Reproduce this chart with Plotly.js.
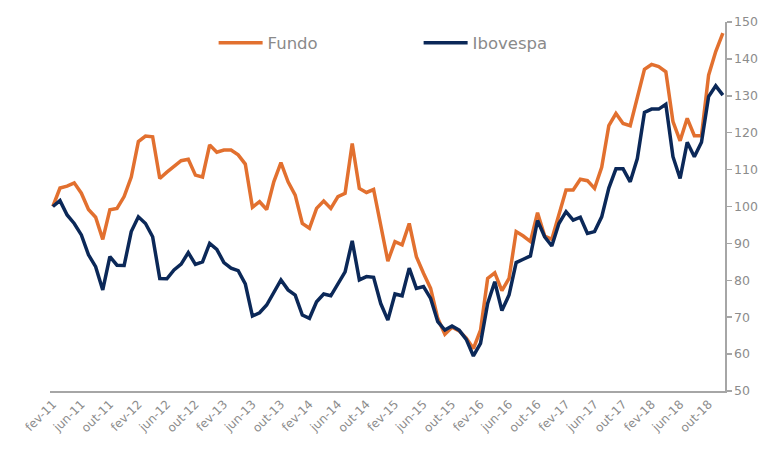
<!DOCTYPE html>
<html><head><meta charset="utf-8">
<script src="https://cdn.plot.ly/plotly-3.0.1.min.js"></script>
<style>html,body{margin:0;padding:0;background:#fff}#chart{width:760px;height:452px}</style>
</head><body><div id="chart"></div>
<script>
const months = [
 "fev-11","mar-11","abr-11","mai-11","jun-11","jul-11","ago-11","set-11","out-11","nov-11","dez-11",
 "jan-12","fev-12","mar-12","abr-12","mai-12","jun-12","jul-12","ago-12","set-12","out-12","nov-12","dez-12",
 "jan-13","fev-13","mar-13","abr-13","mai-13","jun-13","jul-13","ago-13","set-13","out-13","nov-13","dez-13",
 "jan-14","fev-14","mar-14","abr-14","mai-14","jun-14","jul-14","ago-14","set-14","out-14","nov-14","dez-14",
 "jan-15","fev-15","mar-15","abr-15","mai-15","jun-15","jul-15","ago-15","set-15","out-15","nov-15","dez-15",
 "jan-16","fev-16","mar-16","abr-16","mai-16","jun-16","jul-16","ago-16","set-16","out-16","nov-16","dez-16",
 "jan-17","fev-17","mar-17","abr-17","mai-17","jun-17","jul-17","ago-17","set-17","out-17","nov-17","dez-17",
 "jan-18","fev-18","mar-18","abr-18","mai-18","jun-18","jul-18","ago-18","set-18","out-18","nov-18","dez-18"
];
const fundo = [
 100,105,105.5,106.4,103.6,99.2,97.1,91.1,99.1,99.5,
 102.7,108,117.6,119.1,118.9,107.6,109.3,110.8,112.4,112.8,
 108.5,108,116.7,114.7,115.3,115.3,114,111.5,99.8,101.3,
 99.2,106.7,111.9,106.7,103.1,95.4,94.1,99.5,101.5,99.5,
 102.7,103.6,117.1,104.9,103.8,104.6,95,85.2,90.5,89.6,
 95.4,86.4,81.9,77.8,69.7,65.4,67.3,66.3,64.3,61.5,
 66.5,80.5,82,77.2,80.5,93.2,92,90.5,98.3,92,
 91.1,98.1,104.5,104.5,107.4,107,104.9,110.6,121.9,125.2,
 122.5,121.9,129.8,137.2,138.5,137.9,136.5,123,117.8,123.9,
 119.2,119.2,135.6,142,147
];
const ibovespa = [
 100,101.6,97.7,95.4,92.3,86.9,83.7,77.4,86.4,84.1,
 84,93.2,97.2,95.4,91.8,80.5,80.4,82.8,84.4,87.5,
 84.3,85,90,88.4,84.8,83.3,82.6,79,70.3,71.2,
 73.3,76.9,80.1,77.4,76,70.6,69.7,74.2,76.3,75.8,
 79,82.3,90.7,80.1,81,80.8,73.7,69.2,76.3,75.8,
 83.3,77.8,78.3,75.1,68.8,66.5,67.6,66.5,64,59.5,
 62.9,73.7,79.6,71.8,76,84.8,85.7,86.6,96.2,91.8,
 89.3,95.4,98.6,96.3,97.1,92.7,93.2,97.2,105,110.2,
 110.2,106.7,113,125.5,126.4,126.4,127.7,113.5,107.6,117.4,
 113.5,117.4,129.8,132.7,130.2
];
const tickLabels = ["fev-11","jun-11","out-11","fev-12","jun-12","out-12","fev-13","jun-13","out-13",
 "fev-14","jun-14","out-14","fev-15","jun-15","out-15","fev-16","jun-16","out-16","fev-17","jun-17",
 "out-17","fev-18","jun-18","out-18"];
const yTicks = [50,60,70,80,90,100,110,120,130,140,150];

const traces = [
 {x: months, y: fundo, name: "Fundo", type: "scatter", mode: "lines",
  line: {color: "#E2702F", width: 3.5}},
 {x: months, y: ibovespa, name: "Ibovespa", type: "scatter", mode: "lines",
  line: {color: "#0B2858", width: 3.5}}
];
const layout = {
 width: 760, height: 452,
 margin: {l: 50, r: 35, t: 22, b: 61},
 paper_bgcolor: "#fff", plot_bgcolor: "#fff",
 font: {family: "DejaVu Sans, Verdana, sans-serif", color: "#8c8c8c", size: 12},
 showlegend: true,
 legend: {orientation: "h", x: 0.2424, xanchor: "left", y: 0.943, yanchor: "middle",
  font: {size: 16.5, color: "#8a8a8a"}, entrywidth: 146, bgcolor: "rgba(0,0,0,0)",
  itemwidth: 44},
 xaxis: {type: "category", range: [-0.4, 94.3], tickmode: "array", tickvals: tickLabels,
  ticktext: tickLabels, tickangle: -45, showgrid: false, zeroline: false,
  showline: true, linecolor: "#a6a6a6", linewidth: 1.5, ticks: "",
  tickfont: {size: 12, color: "#8c8c8c"}},
 yaxis: {side: "right", range: [50, 150], tickvals: yTicks, showgrid: false, zeroline: false,
  showline: true, linecolor: "#a6a6a6", linewidth: 1.5, ticks: "outside", ticklen: 5,
  tickcolor: "#a6a6a6", tickwidth: 1.5, tickfont: {size: 12.5, color: "#8c8c8c"}}
};
Plotly.newPlot("chart", traces, layout, {displayModeBar: false, staticPlot: true});
</script></body></html>
